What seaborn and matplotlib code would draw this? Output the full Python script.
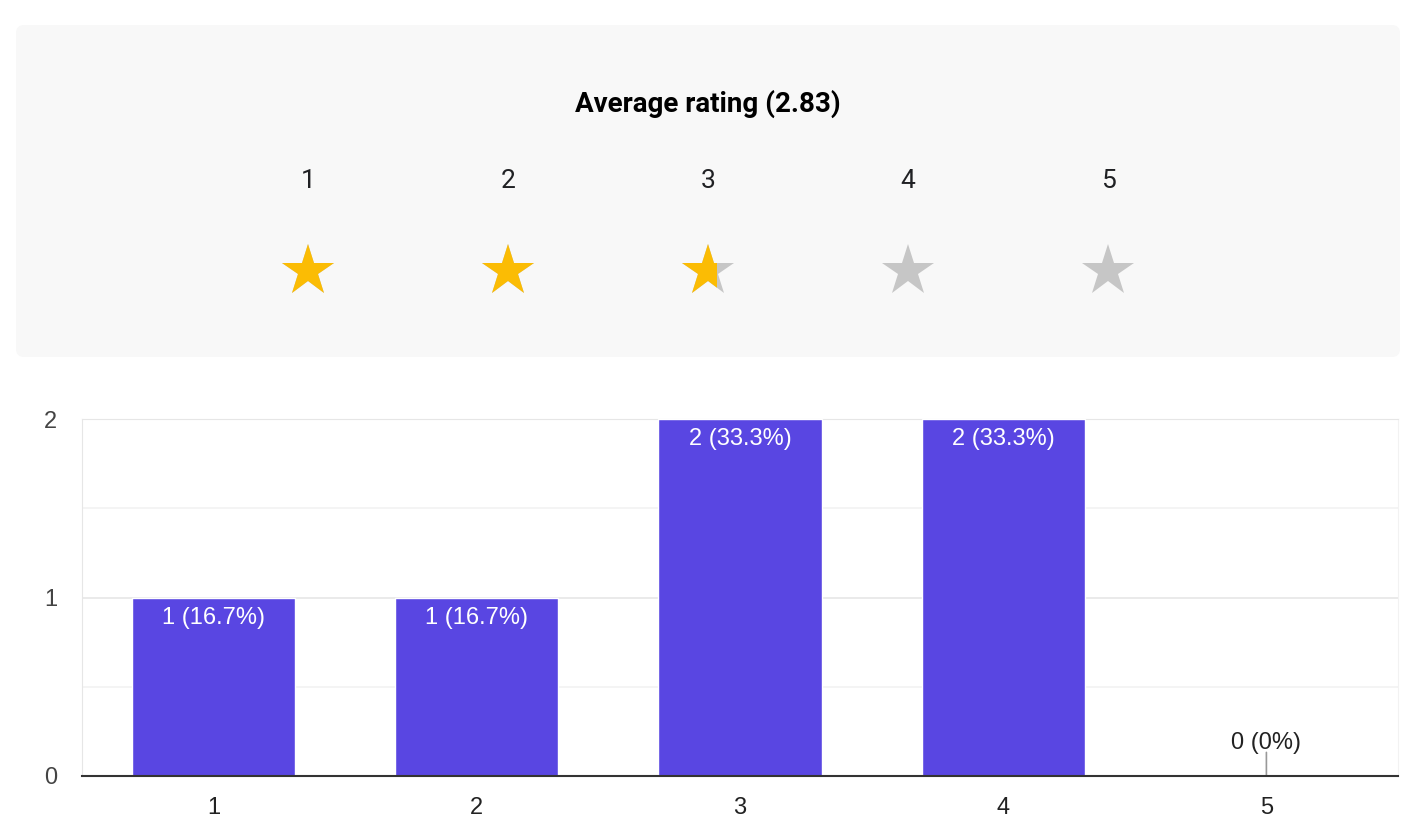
import matplotlib
matplotlib.use("Agg")
import matplotlib.pyplot as plt
import matplotlib.patches as mpatches
import seaborn as sns
import pandas as pd

# ==============================
# DATA
# ==============================
ratings = [1, 2, 3, 4, 5]
counts = [1, 1, 2, 2, 0]
percent_labels = ["16.7%", "16.7%", "33.3%", "33.3%", "0%"]
average_rating = 2.83
y_ticks = [0, 1, 2]

df = pd.DataFrame({"rating": ratings, "count": counts})

# ==============================
# STYLE
# ==============================
sns.set_style("white")
plt.rcParams["font.family"] = ["Roboto", "DejaVu Sans"]
ARIAL = ["Liberation Sans", "DejaVu Sans"]

BAR_COLOR = "#5946e2"
GOLD = "#fbbc04"
GREY_STAR = "#c6c6c6"
PANEL = "#f8f8f8"

W, H = 1420, 840
fig = plt.figure(figsize=(W / 100, H / 100), dpi=100)

# ==============================
# TOP PANEL (pixel coordinates)
# ==============================
top = fig.add_axes([0, 0, 1, 1])
top.set_xlim(0, W)
top.set_ylim(H, 0)
top.axis("off")

panel = mpatches.FancyBboxPatch(
    (16, 25), 1384, 332,
    boxstyle="round,pad=0,rounding_size=8",
    facecolor=PANEL, edgecolor="none"
)
top.add_patch(panel)

top.text(708, 104, f"Average rating ({average_rating:.2f})",
         ha="center", va="center", fontsize=20, fontweight="bold",
         color="#000000")

star_x0, star_dx = 308, 200
star_y = 271
star_ms = 39
star_half_w = 26
for r in ratings:
    x = star_x0 + (r - 1) * star_dx
    top.text(x, 181, str(r), ha="center", va="center", fontsize=19,
             color="#202124")
    top.plot(x, star_y, marker="*", markersize=star_ms, color=GREY_STAR,
             markeredgewidth=0, linestyle="none")
    if r <= average_rating:
        top.plot(x, star_y, marker="*", markersize=star_ms, color=GOLD,
                 markeredgewidth=0, linestyle="none")
    elif r - 1 < average_rating:
        # partially filled star
        frac = 0.65
        clip = mpatches.Rectangle((x - star_half_w - 5, 200),
                                  2 * star_half_w * frac + 5, 150,
                                  transform=top.transData)
        line, = top.plot(x, star_y, marker="*", markersize=star_ms,
                         color=GOLD, markeredgewidth=0, linestyle="none")
        line.set_clip_path(clip)

# ==============================
# BAR CHART
# ==============================
ax = fig.add_axes([82 / W, (H - 776) / H, 1316 / W, 357 / H])

sns.barplot(data=df, x="rating", y="count", color=BAR_COLOR,
            width=0.62, saturation=1, ax=ax, zorder=3)

ax.set_xlim(-0.5, len(ratings) - 0.5)
ax.set_ylim(0, 2)
ax.set_yticks(y_ticks)
ax.set_yticks([0.5, 1.5], minor=True)
ax.set_xlabel("")
ax.set_ylabel("")

ax.grid(axis="y", which="major", color="#e6e6e6", linewidth=1.2, zorder=0)
ax.grid(axis="y", which="minor", color="#f2f2f2", linewidth=1.2, zorder=0)

for side in ["left", "top", "right"]:
    ax.spines[side].set_visible(True)
ax.spines["left"].set_color("#e6e6e6")
ax.spines["top"].set_color("#e6e6e6")
ax.spines["right"].set_color("#f2f2f2")
ax.spines["bottom"].set_color("#333333")
ax.spines["bottom"].set_linewidth(1.5)
ax.spines["bottom"].set_zorder(5)

ax.tick_params(axis="both", which="both", length=0)
ax.tick_params(axis="x", pad=15, labelsize=17, labelcolor="#222222")
ax.tick_params(axis="y", pad=18, labelsize=17, labelcolor="#444444")
for lab in ax.get_xticklabels() + ax.get_yticklabels():
    lab.set_fontfamily(ARIAL)

for i, (c, p) in enumerate(zip(counts, percent_labels)):
    label = f"{c} ({p})"
    if c > 0:
        ax.annotate(label, (i, c), xytext=(0, -6.5), textcoords="offset points",
                    ha="center", va="top", color="white", fontsize=17,
                    family=ARIAL, zorder=6)
    else:
        ax.annotate("", (i, 0), xytext=(0, 17), textcoords="offset points",
                    arrowprops=dict(arrowstyle="-", color="#999999", lw=1.2,
                                    shrinkA=0, shrinkB=0), zorder=4)
        ax.annotate(label, (i, 0), xytext=(0, 15.5), textcoords="offset points",
                    ha="center", va="bottom", color="#222222", fontsize=17,
                    family=ARIAL, zorder=6)

fig.savefig("out.png", dpi=100)
